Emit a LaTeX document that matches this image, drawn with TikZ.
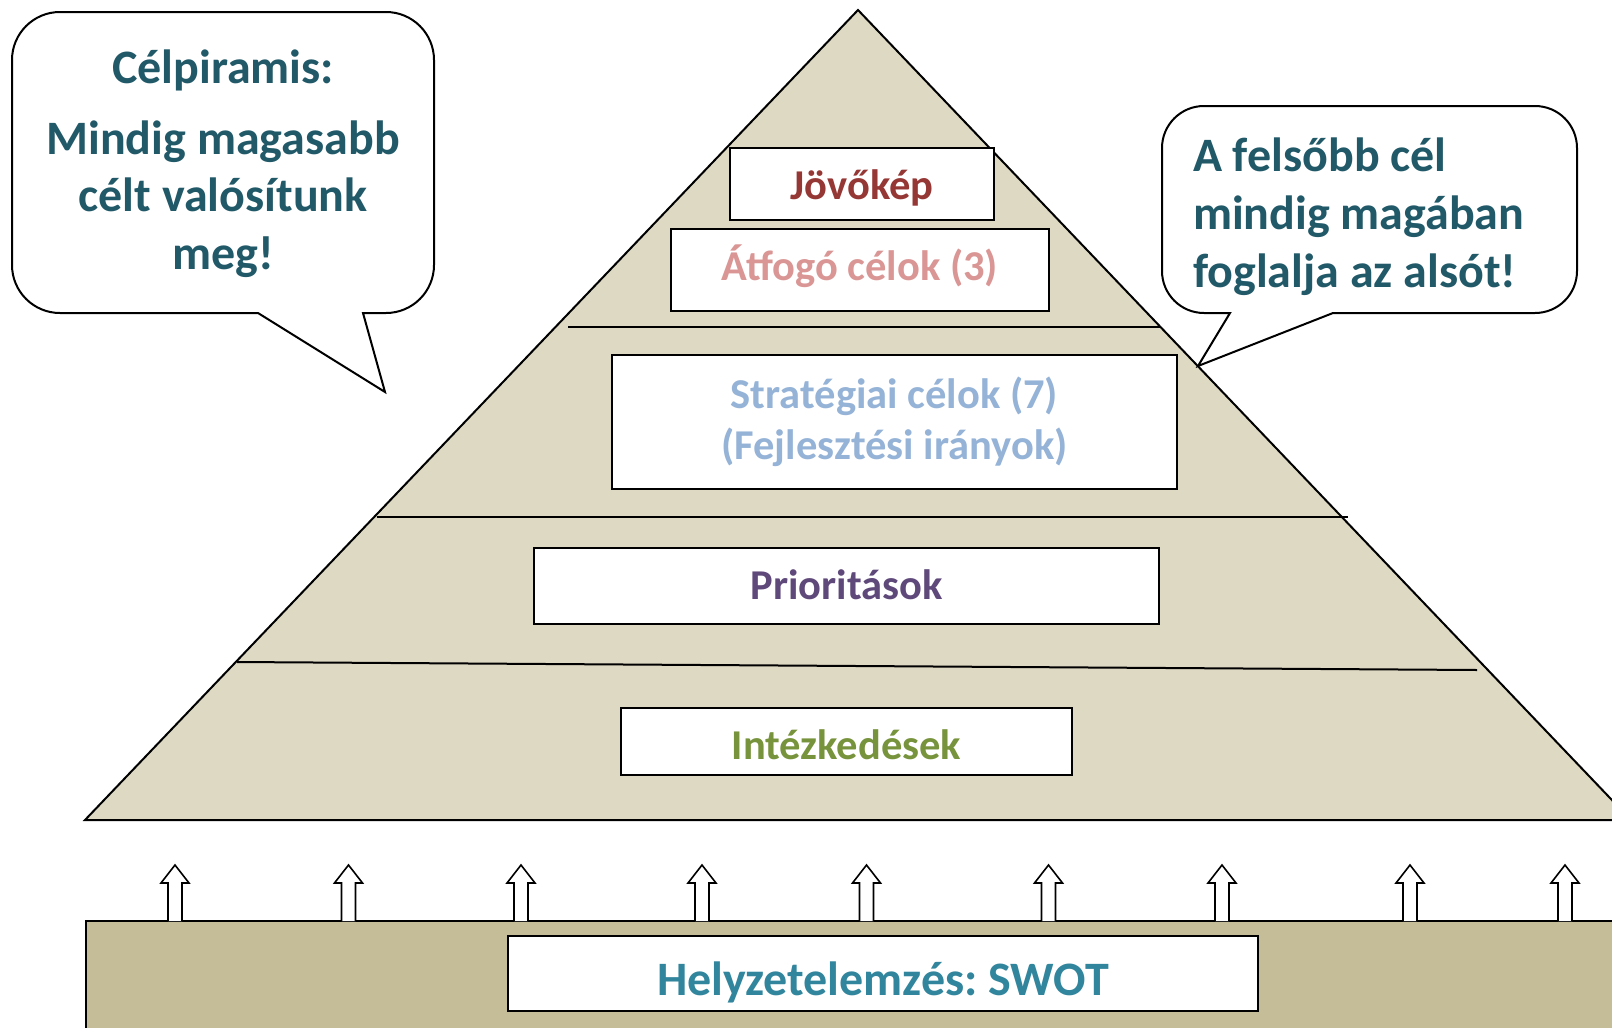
\documentclass[tikz,border=0pt]{standalone}
\usepackage{fontspec}
\setmainfont{Carlito}
\frenchspacing
\definecolor{pyramidfill}{HTML}{DDD9C3}
\definecolor{basefill}{HTML}{C4BD97}
\definecolor{bubbleink}{HTML}{215968}
\definecolor{visionink}{HTML}{953735}
\definecolor{overallink}{HTML}{D99694}
\definecolor{strategyink}{HTML}{95B3D7}
\definecolor{priorityink}{HTML}{5F497A}
\definecolor{measureink}{HTML}{77933C}
\definecolor{swotink}{HTML}{31859C}

\begin{document}
\begin{tikzpicture}[x=1pt, y=-1pt, line width=2pt,
                    every node/.style={font=\bfseries},
                    levelbox/.style={draw, fill=white, line width=2pt, inner sep=0pt,
                                     align=center, font=\bfseries\fontsize{42.5}{51}\selectfont},
                    onelevel/.style={levelbox, text depth=0pt, text height=#1},
                    bubble/.style={draw, fill=white, line width=2pt},
                    bubbletext/.style={text=bubbleink, inner sep=0pt,
                                       font=\bfseries\fontsize{48}{58}\selectfont},
                    uparrow/.style={draw, fill=white, line width=1.6pt}]

  \clip (0,0) rectangle (1612,1028);

  %% piramis
  \filldraw[fill=pyramidfill] (858,10) -- (85,820) -- (1631,820) -- cycle;

  %% szintek elválasztó vonalai
  \draw (568,327) -- (1160,327);
  \draw (377,517) -- (1348,517);
  \draw (237,662) -- (1477,670);

  %% szintek
  \node[onelevel=31pt, text=visionink,  minimum width=264pt, minimum height=72pt] (jovokep) at (862,184)     {Jövőkép};
  \node[onelevel=20pt, text=overallink, minimum width=378pt, minimum height=82pt] (atfogo)  at (860,270)     {Átfogó célok (3)};
  \node[levelbox, text=strategyink, minimum width=565pt, minimum height=134pt]    (strateg) at (894.5,421.5) {Stratégiai célok (7)\\(Fejlesztési irányok)};
  \node[onelevel=27pt, text=priorityink, minimum width=625pt, minimum height=76pt] (prior)  at (846.5,586)   {Prioritások};
  \node[onelevel=35pt, text=measureink, minimum width=451pt, minimum height=67pt] (intezk)  at (846.5,741.5) {Intézkedések};

  %% alap: helyzetelemzés
  \filldraw[fill=basefill] (86,921) rectangle (1640,1040);
  \foreach \ax in {175,348.5,521,702,866.5,1048.5,1222,1410,1565}
    \draw[uparrow] (\ax-7,921) -- (\ax-7,883) -- (\ax-14,883) -- (\ax,865)
                   -- (\ax+14,883) -- (\ax+7,883) -- (\ax+7,921);
  \node[onelevel=43pt, text=swotink, minimum width=750pt, minimum height=75pt,
        font=\bfseries\fontsize{48}{56}\selectfont] (swot) at (883,973.5) {Helyzetelemzés: SWOT};

  %% bal oldali szövegbuborék
  \draw[bubble] (258,313) -- (385,392) -- (363,313) -- (364,313) [rounded corners=48pt]
    -- (434,313) -- (434,12) -- (12,12) -- (12,313) -- (200,313) [sharp corners] -- cycle;
  \node[bubbletext, anchor=base] (celpir) at (223,83) {Célpiramis:};
  \node[bubbletext, anchor=base, align=center, font=\bfseries\fontsize{48}{57.5}\selectfont]
    (mindig) at (223,269) {Mindig magasabb\\célt valósítunk\\meg!};

  %% jobb oldali szövegbuborék
  \draw[bubble] (1333,313) -- (1198,366) -- (1230,313) -- (1229,313) [rounded corners=42pt]
    -- (1162,313) -- (1162,106) -- (1577,106) -- (1577,313) -- (1400,313) [sharp corners] -- cycle;
  \node[bubbletext, anchor=base west, align=left] (felsobb) at (1192,287)
    {A felsőbb cél\\mindig magában\\foglalja az alsót!};

\end{tikzpicture}
\end{document}
